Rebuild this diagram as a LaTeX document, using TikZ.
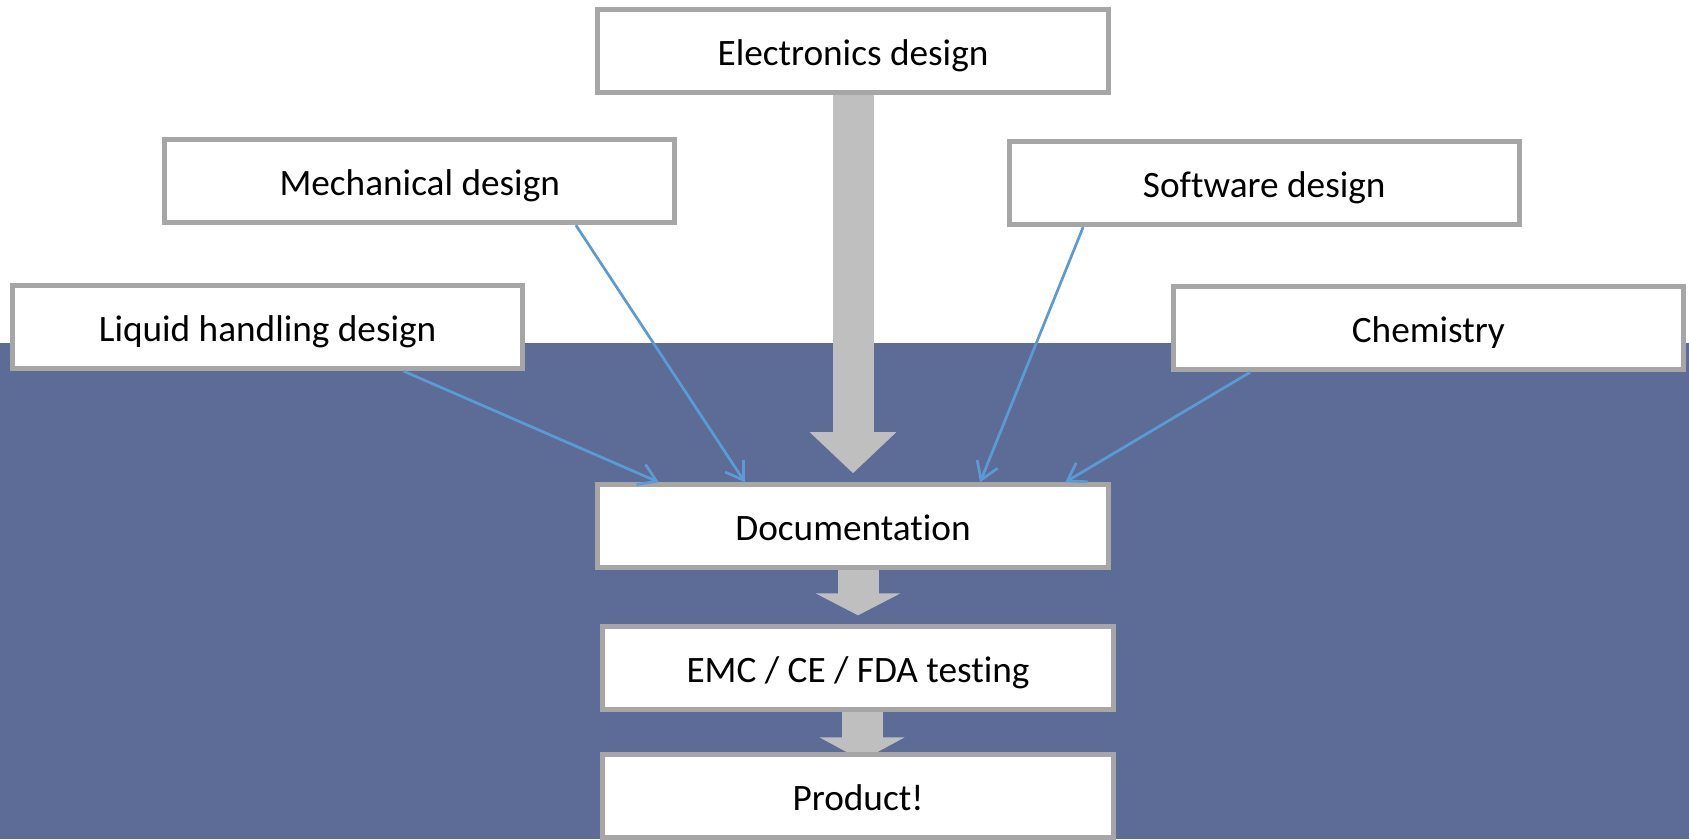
\documentclass[tikz,border=0pt]{standalone}
\usepackage{fontspec}
\setmainfont{Carlito}[Ligatures=NoCommon]
\usetikzlibrary{positioning, arrows.meta, backgrounds}
\definecolor{slate}{RGB}{93,108,150}
\definecolor{boxgray}{RGB}{166,166,166}
\definecolor{arrowgray}{RGB}{191,191,191}
\definecolor{linkblue}{RGB}{91,155,213}

\begin{document}
\begin{tikzpicture}[
    x=0.01cm, y=-0.01cm,
    on grid,
    every node/.style={font=\fontsize{10.6}{12.7}\selectfont},
    task/.style={draw=boxgray, line width=0.05cm, fill=white, minimum width=5.10cm, minimum height=0.83cm,
        inner sep=0pt, text height=0.36cm, text depth=0.08cm},
    feed/.style={draw=linkblue, line width=0.027cm, -{Straight Barb[length=0.17cm, width=0.22cm]}},
    flow/.style={draw=arrowgray, line width=0.41cm, -{Triangle[length=#1, width=0.84cm]}},
    flow/.default=0.41cm
]
   \useasboundingbox (0,0) rectangle (1689,839);

   % Design inputs
   \node[task] (elec) at (853,51) {Electronics design};
   \node[task] (mech) [below left=1.30cm and 4.33cm of elec] {Mechanical design};
   \node[task] (soft) [below right=1.32cm and 4.11cm of elec] {Software design};
   \node[task] (liquid) [below left=1.46cm and 1.52cm of mech] {Liquid handling design};
   \node[task] (chem) [below right=1.45cm and 1.64cm of soft] {Chemistry};

   % Main chain
   \node[task] (doc) [below=4.75cm of elec] {Documentation};
   \node[task] (emc) [below=1.42cm of doc, xshift=0.05cm] {EMC / CE / FDA testing};
   \node[task] (product) [below=1.28cm of emc] {Product!};

   % Thin links into documentation
   \path
   ([xshift=1.36cm]liquid.south) edge[feed] ([xshift=-1.94cm]doc.north)
   ([xshift=1.56cm]mech.south) edge[feed] ([xshift=-1.08cm]doc.north)
   ([xshift=-1.81cm]soft.south) edge[feed] ([xshift=1.27cm]doc.north)
   ([xshift=-1.78cm]chem.south) edge[feed] ([xshift=2.12cm]doc.north);

   \begin{scope}[on background layer]
      \fill[slate] (0,343) rectangle (1689,839);
      % Block arrows
      \draw[flow, shorten >=0.09cm] (elec.south) -- (doc.north);
      \draw[flow=0.22cm, shorten >=0.09cm] (doc.south -| emc.north) -- (emc.north);
      \draw[flow=0.23cm, shorten >=-0.08cm] ([xshift=0.04cm]emc.south) -- ([xshift=0.04cm]product.north);
   \end{scope}
\end{tikzpicture}
\end{document}
